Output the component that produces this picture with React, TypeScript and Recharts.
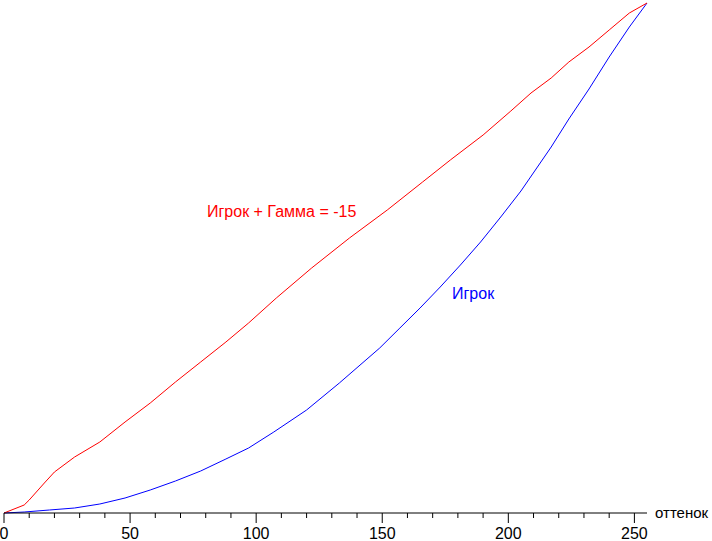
import { Line, LineChart, XAxis, YAxis } from "recharts";

// hue (x) and output level (y)
const gammaHue = [0, 8, 10, 16, 20, 28, 38, 48, 58, 68, 78, 88, 97, 108, 122, 137, 152, 166, 177, 190, 201, 209, 217, 224, 232, 240, 248, 255];
const gammaLevel = [0, 4, 6.5, 15, 20.5, 28, 35.5, 45.5, 55, 65.5, 75.5, 85.5, 95, 107.5, 122.5, 137.5, 151.5, 165.5, 176.5, 189, 201, 210, 217.5, 225.5, 233, 241.5, 250, 255];

const playerHue = [0, 8, 18, 28, 38, 48, 58, 68, 78, 88, 97, 107, 120, 133, 149, 157, 165, 173, 181, 189, 197, 205, 217, 224, 232, 240, 248, 255];
const playerLevel = [0, 0.5, 1.5, 2.5, 4.5, 7.5, 11.5, 16, 21, 27, 32.5, 40.5, 51.5, 65, 82.5, 92.5, 102.5, 113, 124, 135.5, 148, 161, 183, 197, 212, 228, 243, 255];

const tickValues = [0, 10, 20, 30, 40, 50, 60, 70, 80, 90, 100, 110, 120, 130, 140, 150, 160, 170, 180, 190, 200, 210, 220, 230, 240, 250];

const gammaData = gammaHue.map((hue, i) => ({ hue, level: gammaLevel[i] }));
const playerData = playerHue.map((hue, i) => ({ hue, level: playerLevel[i] }));

const font = "'Liberation Sans', Arial, sans-serif";

function HueTick(props: any) {
  const { x, y, payload } = props;
  const major = payload.value % 50 === 0;
  return (
    <g>
      <line x1={x} x2={x} y1={y} y2={y + (major ? 10 : 5)} stroke="#000" strokeWidth={1} />
      {major ? (
        <text x={x} y={y + 26} textAnchor="middle" fontSize={16} fontFamily={font} fill="#000">
          {payload.value}
        </text>
      ) : null}
    </g>
  );
}

export default function App() {
  return (
    <div style={{ position: "absolute", left: 0, top: 0, width: 712, height: 541, background: "#fff" }}>
      <LineChart width={712} height={541} margin={{ top: 3, right: 65, bottom: 0, left: 4 }}>
        <XAxis
          dataKey="hue"
          type="number"
          domain={[0, 255]}
          ticks={tickValues}
          interval={0}
          tick={<HueTick />}
          tickLine={false}
          tickSize={0}
          tickMargin={0}
          height={28}
          axisLine={{ stroke: "#000", strokeWidth: 1 }}
          allowDuplicatedCategory={false}
        />
        <YAxis type="number" domain={[0, 255]} hide />
        <Line
          data={playerData}
          dataKey="level"
          type="linear"
          stroke="#0000ff"
          strokeWidth={1}
          dot={false}
          isAnimationActive={false}
        />
        <Line
          data={gammaData}
          dataKey="level"
          type="linear"
          stroke="#ff0000"
          strokeWidth={1}
          dot={false}
          isAnimationActive={false}
        />
      </LineChart>
      <svg width={712} height={541} style={{ position: "absolute", left: 0, top: 0, pointerEvents: "none" }}>
        <text x={207} y={217} fontSize={16} fontFamily={font} fill="#ff0000">
          Игрок + Гамма = -15
        </text>
        <text x={452} y={299} fontSize={16} fontFamily={font} fill="#0000ff">
          Игрок
        </text>
        <text x={655} y={518} fontSize={15} fontFamily={font} fill="#000">
          оттенок
        </text>
      </svg>
    </div>
  );
}
